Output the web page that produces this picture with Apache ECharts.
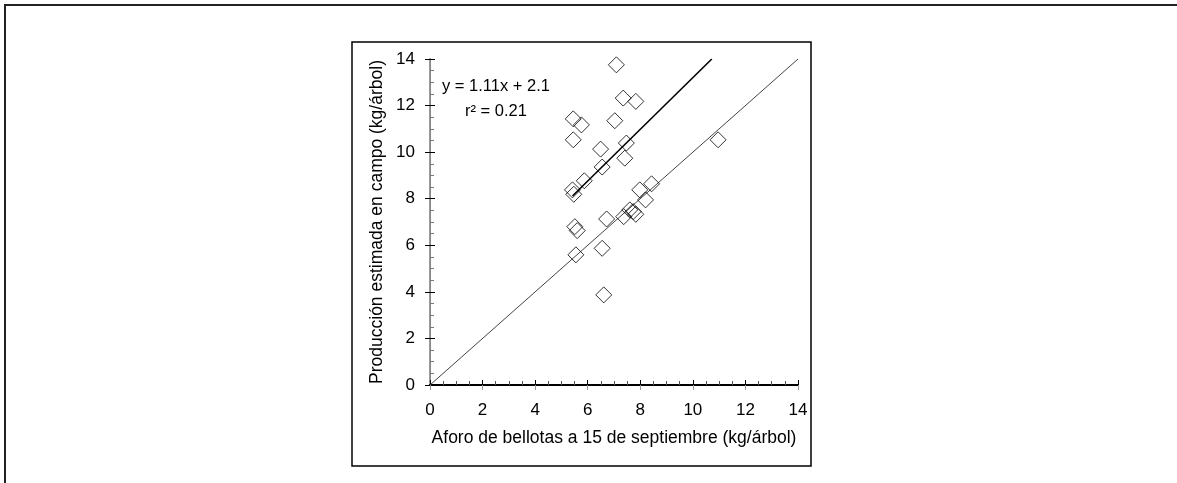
<!DOCTYPE html>
<html>
<head>
<meta charset="utf-8">
<script src="https://cdn.jsdelivr.net/npm/echarts@6/dist/echarts.min.js"></script>
<style>
	html, body { margin: 0; padding: 0; background: #fff; }
	#chart { width: 1177px; height: 483px; }
</style>
</head>
<body>
<div id="chart"></div>
<script>
// aforo (kg/arbol) y produccion estimada (kg/arbol) por arbol
var aforo = [7.09, 7.35, 7.83, 7.03, 5.45, 5.76, 5.45, 6.49, 7.47, 7.41, 6.55, 5.87, 5.42, 5.47,
	5.51, 5.60, 5.55, 6.55, 6.61, 6.72, 7.37, 7.60, 7.73, 7.83, 7.98, 8.20, 8.43, 10.96];
var produccion = [13.75, 12.32, 12.18, 11.35, 11.43, 11.17, 10.53, 10.13, 10.39, 9.74, 9.36, 8.77, 8.38, 8.19,
	6.80, 6.63, 5.59, 5.87, 3.87, 7.13, 7.23, 7.52, 7.45, 7.33, 8.38, 7.95, 8.64, 10.53];
var lineaUno = [0, 14];
var ajusteX = [5.42, 10.72];
var pendiente = 1.11, ordenada = 2.1;
var ticks = [0, 2, 4, 6, 8, 10, 12, 14];

var chart;

init();

function init() {
	chart = echarts.init(document.getElementById("chart"));
	var fuente = 'Liberation Sans, Arial, sans-serif';
	var puntos = aforo.map(function(x, i) { return [x, produccion[i]]; });
	var diagonal = lineaUno.map(function(v) { return [v, v]; });
	var ajuste = ajusteX.map(function(x) { return [x, pendiente * x + ordenada]; });

	var ejeBase = {
		type : 'value',
		min : ticks[0],
		max : ticks[ticks.length - 1],
		interval : 2,
		splitLine : { show : false }
	};

	var option = {
		animation : false,
		grid : { left : 430, right : 379, top : 59, bottom : 98 },
		xAxis : [
			Object.assign({}, ejeBase, {
				position : 'bottom',
				name : 'Aforo de bellotas a 15 de septiembre (kg/árbol)',
				nameLocation : 'middle',
				nameGap : 44,
				nameTextStyle : { fontFamily : fuente, fontSize : 17.5, color : '#000' },
				axisLine : { lineStyle : { color : '#000', width : 2 } },
				axisTick : { inside : true, length : 5, lineStyle : { color : '#000' } },
				minorTick : { show : true, splitNumber : 4, length : 4, lineStyle : { color : '#555' } },
				axisLabel : { margin : 17, fontFamily : fuente, fontSize : 17, color : '#000' }
			}),
			Object.assign({}, ejeBase, {
				position : 'top',
				axisLine : { lineStyle : { color : '#000', width : 1.5 } },
				axisTick : { show : false },
				axisLabel : { show : false }
			}),
			Object.assign({}, ejeBase, {
				position : 'bottom',
				axisLine : { show : false },
				axisTick : { inside : false, length : 5, lineStyle : { color : '#999' } },
				axisLabel : { show : false }
			})
		],
		yAxis : [
			Object.assign({}, ejeBase, {
				position : 'left',
				name : 'Producción estimada en campo (kg/árbol)',
				nameLocation : 'middle',
				nameGap : 44,
				nameTextStyle : { fontFamily : fuente, fontSize : 17.5, color : '#000' },
				axisLine : { lineStyle : { color : '#999', width : 2 } },
				axisTick : { inside : true, length : 5, lineStyle : { color : '#000' } },
				minorTick : { show : true, splitNumber : 4, length : 4, lineStyle : { color : '#777' } },
				axisLabel : { margin : 15, fontFamily : fuente, fontSize : 17, color : '#000' }
			}),
			Object.assign({}, ejeBase, {
				position : 'right',
				axisLine : { lineStyle : { color : '#888', width : 1 } },
				axisTick : { show : false },
				axisLabel : { show : false }
			}),
			Object.assign({}, ejeBase, {
				position : 'left',
				axisLine : { show : false },
				axisTick : { inside : false, length : 5, lineStyle : { color : '#000' } },
				axisLabel : { show : false }
			})
		],
		graphic : [
			{ type : 'line', shape : { x1 : 4, y1 : 5, x2 : 1177, y2 : 5 }, style : { stroke : '#222', lineWidth : 2 } },
			{ type : 'line', shape : { x1 : 5, y1 : 4, x2 : 5, y2 : 483 }, style : { stroke : '#222', lineWidth : 2 } },
			{ type : 'rect', shape : { x : 352, y : 42, width : 459, height : 424 }, style : { fill : 'none', stroke : '#000', lineWidth : 1.5 } },
			{ type : 'text', left : 442, top : 78, style : { text : 'y = 1.11x + 2.1', font : '16.5px ' + fuente, fill : '#000' } },
			{ type : 'text', left : 465, top : 103, style : { text : 'r² = 0.21', font : '16.5px ' + fuente, fill : '#000' } }
		],
		series : [{
			type : 'line',
			data : diagonal,
			symbol : 'none',
			lineStyle : { color : '#444', width : 1 },
			z : 2
		}, {
			type : 'line',
			data : ajuste,
			symbol : 'none',
			lineStyle : { color : '#000', width : 1.6 },
			z : 2
		}, {
			type : 'scatter',
			data : puntos,
			symbol : 'diamond',
			symbolSize : 16,
			itemStyle : { color : 'rgba(0,0,0,0)', borderColor : '#000', borderWidth : 1 },
			z : 3
		}]
	};
	chart.setOption(option);
}
</script>
</body>
</html>
